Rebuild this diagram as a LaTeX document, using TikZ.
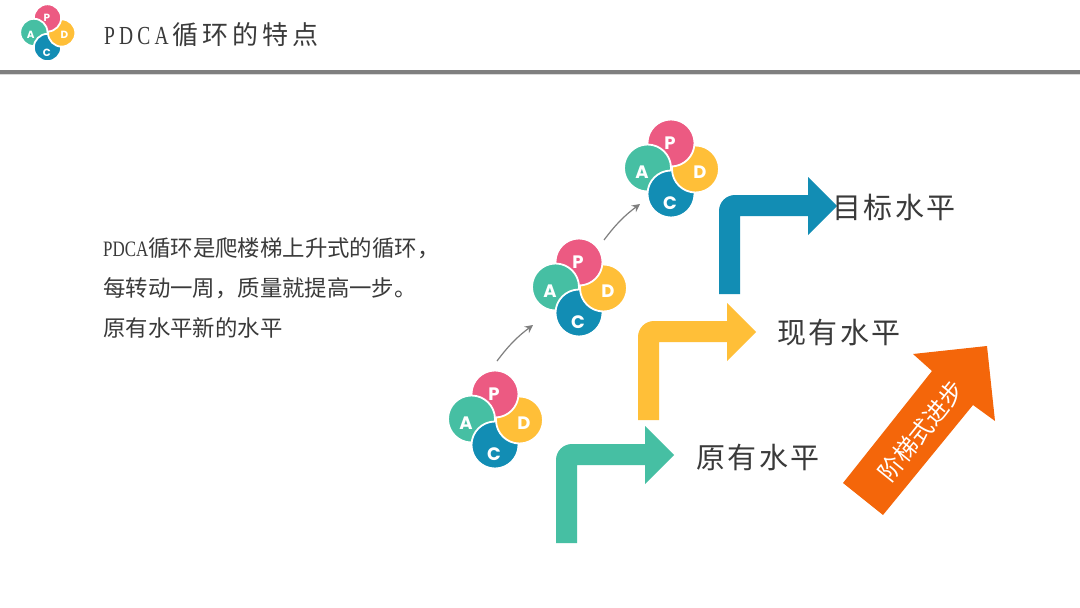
\documentclass[tikz,border=0pt]{standalone}
\usepackage{fontspec}
\usepackage{xcolor}
\usetikzlibrary{arrows.meta}
\setmainfont{Noto Sans CJK SC}
\newfontfamily\cjkwide[LetterSpace=7]{Noto Sans CJK SC}
\newfontfamily\cjktitle[LetterSpace=16]{Noto Sans CJK SC}
\newfontfamily\latintitle[FakeStretch=0.75,LetterSpace=16]{Liberation Serif}
\newfontfamily\latinbody[FakeStretch=0.77]{Liberation Serif}
\newfontfamily\logofont{Poppins}
\definecolor{tealMain}{HTML}{46BFA3}
\definecolor{yellowMain}{HTML}{FFBF38}
\definecolor{blueMain}{HTML}{128DB4}
\definecolor{pinkMain}{HTML}{EC5A82}
\definecolor{orangeMain}{HTML}{F4660A}
\definecolor{grayRule}{HTML}{7F7F7F}
\definecolor{grayLine}{HTML}{DADADA}
\definecolor{grayText}{HTML}{3A3A3A}
\tikzset{
    logoDisc/.style={draw=white, line width=1.8pt},
    logoLetter/.style={font=\logofont\bfseries\fontsize{18}{18}\selectfont, text=white, inner sep=0pt, transform shape},
    levelLabel/.style={font=\cjkwide\fontsize{29}{29}\selectfont, text=grayText, inner sep=0pt},
    climbArrow/.style={-{Stealth[length=8pt,width=8pt]}, draw=grayRule, line width=1.2pt}
}
\begin{document}
\begin{tikzpicture}[x=1pt,y=-1pt]

            \newcommand{\PdcaLogo}[4]{%
                \begin{scope}[shift={(#2,#3)}, scale=#4]
                    \filldraw[logoDisc, fill=tealMain] (-23.5,-1) circle (23.5pt);
                    \filldraw[logoDisc, fill=blueMain] (0,25) circle (23.5pt);
                    \filldraw[logoDisc, fill=yellowMain] (24.5,0) circle (23.5pt);
                    \filldraw[logoDisc, fill=pinkMain] (0,-26) circle (23.5pt);
                    \begin{scope}
                        \clip (-60,-60) rectangle (1,-1);
                        \filldraw[logoDisc, fill=tealMain] (-23.5,-1) circle (23.5pt);
                    \end{scope}
                    \node[logoLetter] (#1P) at (-1,-26) {P};
                    \node[logoLetter] (#1A) at (-29,3) {A};
                    \node[logoLetter] (#1D) at (29,3) {D};
                    \node[logoLetter] (#1C) at (-1,34) {C};
                \end{scope}
            }

            \newcommand{\BentArrow}[3]{%
                \fill[#1, shift={(#2,#3)}]
                (0,0) -- (0,-83)
                arc[start angle=180, end angle=90, radius=16pt]
                -- (89,-99) -- (89,-117) -- (118,-88) -- (89,-59) -- (89,-78)
                -- (21,-78) -- (21,0) -- cycle;
            }

            \useasboundingbox (0,0) rectangle (1080,608);
            \fill[white] (0,0) rectangle (1080,608);

            % header
            \PdcaLogo{head}{47.5}{33}{0.58}
            \fill[grayRule] (0,70) rectangle (1080,74);
            \fill[grayLine] (0,74) rectangle (1080,75);
            \node[anchor=west, inner sep=0pt, text=grayText] (title) at (104,35)
                {{\latintitle\fontsize{26}{26}\selectfont PDCA}\hspace{3.5pt}{\cjktitle\fontsize{26}{26}\selectfont 循环的特点}};

            % text block
            \node[anchor=north west, inner sep=0pt, align=left, text=grayText,
                font=\fontsize{22.4}{40}\selectfont] (body) at (103,237)
                {{\latinbody\fontsize{22}{40}\selectfont PDCA}循环是爬楼梯上升式的循环，\\
                每转动一周，质量就提高一步。\\
                原有水平新的水平};

            % logos
            \PdcaLogo{low}{495}{420}{1}
            \PdcaLogo{mid}{579}{288}{1}
            \PdcaLogo{top}{671}{169}{1}

            \coordinate (lowOut) at (497,361);
            \coordinate (midIn) at (533,325);
            \coordinate (midOut) at (604,240);
            \coordinate (topIn) at (640,204);
            \draw[climbArrow] (lowOut) to[bend left=8] (midIn);
            \draw[climbArrow] (midOut) to[bend left=8] (topIn);

            % stair arrows
            \BentArrow{tealMain}{556}{543}
            \BentArrow{yellowMain}{638}{420}
            \BentArrow{blueMain}{719}{294}

            \node[levelLabel] (levelLow) at (758,457) {原有水平};
            \node[levelLabel] (levelNow) at (839,333) {现有水平};
            \node[levelLabel] (levelGoal) at (894,207) {目标水平};

            % big arrow
            \fill[orangeMain] (843,483) -- (932,371) -- (913,354) -- (987,346)
                -- (995,421) -- (973,405) -- (883,515) -- cycle;
            \node[rotate=51, text=white, inner sep=0pt,
                font=\fontsize{24}{24}\selectfont] (stepText) at (921,431) {阶梯式进步};

\end{tikzpicture}
\end{document}
